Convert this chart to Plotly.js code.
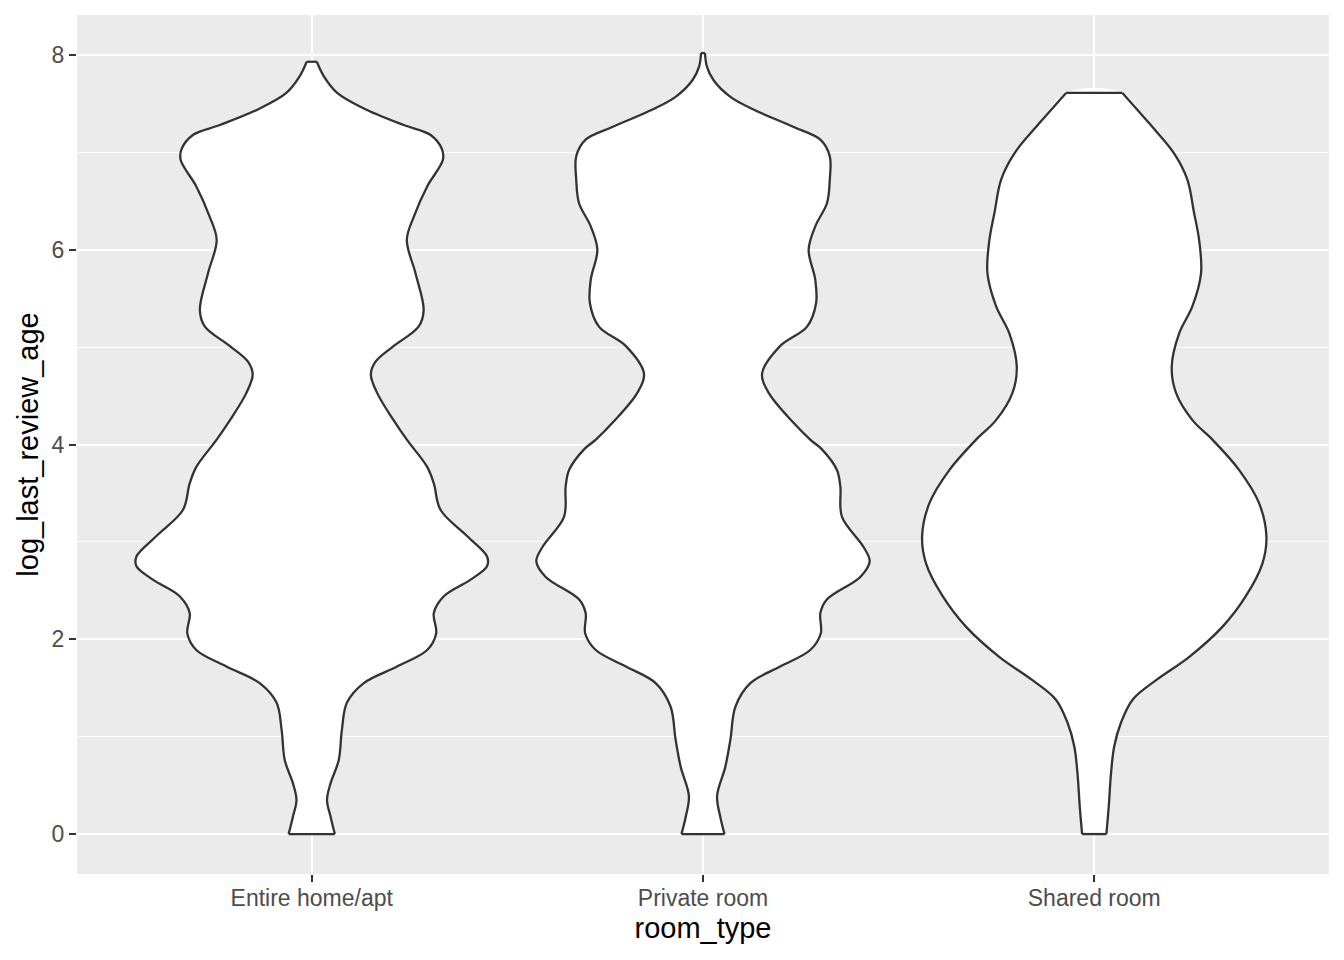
<!DOCTYPE html>
<html>
<head>
<meta charset="utf-8">
<script src="https://cdn.plot.ly/plotly-3.0.1.min.js"></script>
<style>html,body{margin:0;padding:0;background:#fff;}#chart{width:1344px;height:960px;}</style>
</head>
<body>
<div id="chart"></div>
<script>
// Categories (x axis)
const categories = ["Entire home/apt", "Private room", "Shared room"];

// Violin outlines: y level and half-width (in category units)
const entireY = [0.00, 0.18, 0.35, 0.52, 0.76, 1.07, 1.35, 1.55, 1.72, 1.89, 2.06, 2.27, 2.44, 2.61, 2.75, 2.85, 3.06, 3.33, 3.60, 3.77, 4.05, 4.25, 4.53, 4.72, 4.85, 5.01, 5.21, 5.38, 5.76, 6.10, 6.34, 6.65, 6.92, 7.03, 7.18, 7.28, 7.45, 7.61, 7.78, 7.93];
const entireW = [0.059, 0.048, 0.039, 0.048, 0.069, 0.077, 0.090, 0.133, 0.218, 0.295, 0.318, 0.312, 0.337, 0.405, 0.448, 0.448, 0.397, 0.329, 0.312, 0.295, 0.243, 0.209, 0.167, 0.151, 0.163, 0.209, 0.273, 0.286, 0.265, 0.243, 0.261, 0.295, 0.335, 0.333, 0.303, 0.235, 0.133, 0.065, 0.031, 0.013];

const privateY = [0.00, 0.18, 0.39, 0.69, 0.97, 1.31, 1.55, 1.72, 1.89, 2.06, 2.27, 2.41, 2.64, 2.80, 2.95, 3.26, 3.57, 3.74, 3.95, 4.05, 4.22, 4.53, 4.73, 5.01, 5.21, 5.45, 5.69, 6.00, 6.24, 6.48, 6.72, 6.96, 7.13, 7.26, 7.44, 7.57, 7.74, 7.88, 8.02];
const privateW = [0.055, 0.044, 0.036, 0.057, 0.070, 0.083, 0.121, 0.197, 0.274, 0.301, 0.300, 0.317, 0.402, 0.426, 0.410, 0.355, 0.351, 0.342, 0.304, 0.274, 0.232, 0.168, 0.151, 0.197, 0.266, 0.289, 0.287, 0.270, 0.287, 0.317, 0.324, 0.324, 0.300, 0.232, 0.129, 0.070, 0.027, 0.010, 0.005];

const sharedY = [0.00, 0.28, 0.63, 0.90, 1.14, 1.38, 1.58, 1.82, 2.13, 2.44, 2.78, 3.06, 3.40, 3.74, 4.05, 4.25, 4.53, 4.80, 5.14, 5.42, 5.76, 6.10, 6.38, 6.72, 6.99, 7.30, 7.61];
const sharedW = [0.031, 0.037, 0.043, 0.051, 0.068, 0.098, 0.158, 0.243, 0.328, 0.387, 0.430, 0.440, 0.421, 0.370, 0.302, 0.251, 0.209, 0.198, 0.217, 0.251, 0.273, 0.268, 0.255, 0.238, 0.204, 0.140, 0.072];

const yTickVals = [0, 2, 4, 6, 8];
const yMinorVals = [1, 3, 5, 7];

const series = [
  {ys: entireY, ws: entireW},
  {ys: privateY, ws: privateW},
  {ys: sharedY, ws: sharedW}
];

const traces = [];
series.forEach((s, idx) => {
  const left = s.ys.map((y, i) => idx - s.ws[i]);
  const right = s.ys.map((y, i) => idx + s.ws[i]);
  const n = s.ys.length;
  // filled body
  traces.push({
    type: 'scatter', mode: 'lines',
    x: left.concat(right.slice().reverse()),
    y: s.ys.concat(s.ys.slice().reverse()),
    fill: 'toself', fillcolor: '#FFFFFF',
    line: {width: 0, shape: 'spline', smoothing: 1},
    hoverinfo: 'skip', showlegend: false
  });
  // outline
  traces.push({
    type: 'scatter', mode: 'lines',
    x: left.concat([null], right, [null, left[n - 1], right[n - 1], null, left[0], right[0]]),
    y: s.ys.concat([null], s.ys, [null, s.ys[n - 1], s.ys[n - 1], null, s.ys[0], s.ys[0]]),
    line: {color: '#333333', width: 2.3, shape: 'spline', smoothing: 1},
    connectgaps: false,
    hoverinfo: 'skip', showlegend: false
  });
});

const layout = {
  width: 1344, height: 960,
  paper_bgcolor: '#FFFFFF', plot_bgcolor: '#EBEBEB',
  margin: {l: 77, r: 15, t: 15, b: 86, pad: 0},
  font: {family: 'Liberation Sans, Arial, sans-serif', color: '#4D4D4D', size: 23},
  showlegend: false,
  xaxis: {
    range: [-0.6, 2.6], tickmode: 'array', tickvals: [0, 1, 2], ticktext: categories,
    showgrid: true, gridcolor: '#FFFFFF', gridwidth: 2, zeroline: false, showline: false,
    ticks: 'outside', ticklen: 7, tickwidth: 2, tickcolor: '#333333',
    tickfont: {size: 23, color: '#4D4D4D'}, ticklabelstandoff: -4,
    title: {text: 'room_type', font: {size: 29, color: '#000000'}, standoff: 8},
    automargin: false, fixedrange: true
  },
  yaxis: {
    range: [-0.41, 8.41], tickmode: 'array', tickvals: yTickVals, ticktext: yTickVals.map(String),
    showgrid: true, gridcolor: '#FFFFFF', gridwidth: 2, zeroline: false, showline: false,
    ticks: 'outside', ticklen: 7, tickwidth: 2, tickcolor: '#333333',
    tickfont: {size: 23, color: '#4D4D4D'},
    minor: {tickmode: 'array', tickvals: yMinorVals, showgrid: true, gridcolor: '#FFFFFF', gridwidth: 1, ticks: ''},
    title: {text: 'log_last_review_age', font: {size: 29, color: '#000000'}, standoff: 4},
    automargin: false, fixedrange: true
  }
};

Plotly.newPlot('chart', traces, layout, {displayModeBar: false, staticPlot: true});
</script>
</body>
</html>
